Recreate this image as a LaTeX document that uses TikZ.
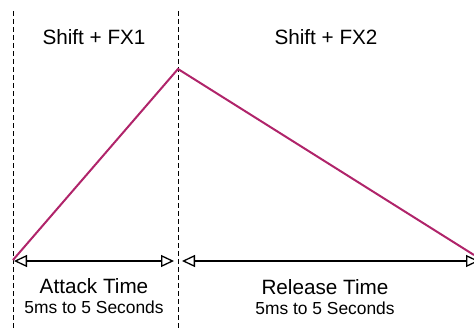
\documentclass[tikz,border=0pt]{standalone}
\usepackage{fontspec}
\setmainfont{Liberation Sans}
\usetikzlibrary{arrows.meta}
\begin{document}
\begin{tikzpicture}[x=1pt,y=-1pt,
  guide/.style={draw=black,line width=1pt,dash pattern=on 5pt off 3pt},
  env/.style={line width=2pt,line join=miter},
  tipshape/.style={},
  span/.style={draw=black,line width=1.3pt,{Triangle[open,length=13pt,width=12pt,line width=1.3pt]}-{Triangle[open,length=13pt,width=12pt,line width=1.3pt]}},
  big/.style={font=\fontsize{20.7}{24}\selectfont,anchor=base,inner sep=0pt},
  small/.style={font=\fontsize{17.4}{20}\selectfont,anchor=base,inner sep=0pt}]
\definecolor{envc}{RGB}{176,36,106}
\useasboundingbox (0,0) rectangle (474,329);
\begin{scope}
\clip (0,0) rectangle (474,329);
\coordinate (gt1) at (13,11);
\coordinate (gb1) at (13,329);
\coordinate (gt2) at (178,11);
\coordinate (gb2) at (178,329);
\draw[guide] (gt1) -- (gb1);
\draw[guide] (gt2) -- (gb2);
\coordinate (start) at (13,260);
\coordinate (peak) at (178,69);
\coordinate (stop) at (474,255);
\draw[env,draw=envc] (start) -- (peak) -- (stop);
\coordinate (a1) at (14,261);
\coordinate (a2) at (174,261);
\coordinate (r1) at (182,261);
\coordinate (r2) at (479,261);
\draw[span] (a1) -- (a2);
\draw[span] (r1) -- (r2);
\end{scope}
\node[big] (fx1) at (94,45) {Shift + FX1};
\node[big] (fx2) at (326,45) {Shift + FX2};
\node[big] (att) at (94,293) {Attack Time};
\node[small] (atts) at (94,313) {5ms to 5 Seconds};
\node[big] (rel) at (325,294) {Release Time};
\node[small] (rels) at (325,314) {5ms to 5 Seconds};
\end{tikzpicture}
\end{document}
